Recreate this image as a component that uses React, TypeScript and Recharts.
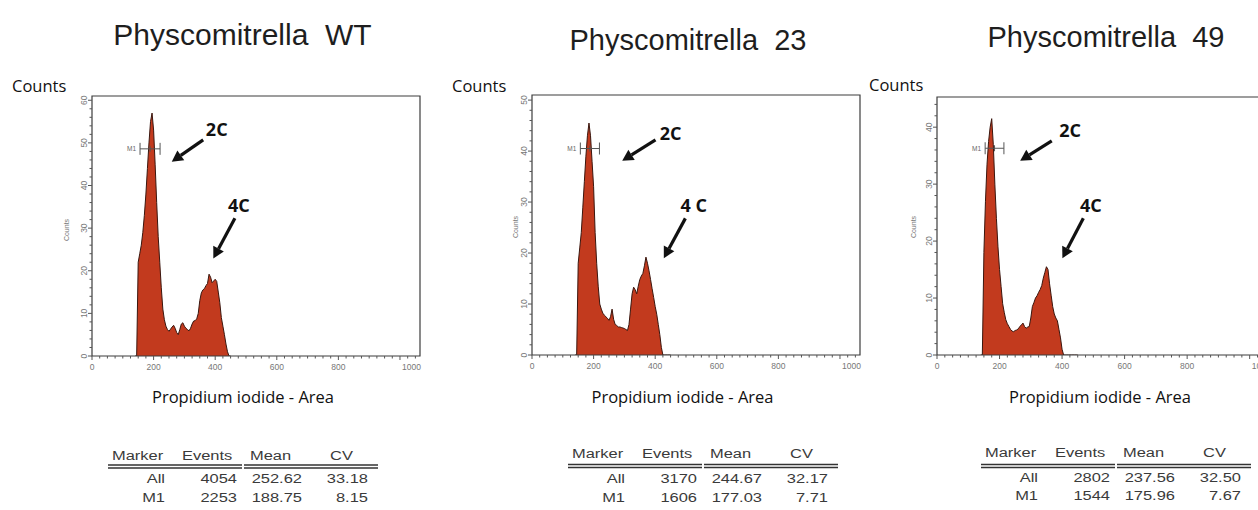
import React from "react";
import {
  AreaChart,
  Area,
  XAxis,
  YAxis,
  ReferenceArea,
  ReferenceLine,
  ReferenceDot,
} from "recharts";

// histogram bins (Propidium iodide channel)
const channels = [
  140, 145, 150, 155, 160, 165, 170, 175, 180, 185, 190, 195, 200, 205, 210,
  215, 220, 225, 230, 235, 240, 245, 250, 255, 260, 265, 270, 275, 280, 285,
  290, 295, 300, 305, 310, 315, 320, 325, 330, 335, 340, 345, 350, 355, 360,
  365, 370, 375, 380, 385, 390, 395, 400, 405, 410, 415, 420, 425, 430, 435,
  440, 445, 450,
];

const wtCounts = [
  0, 0, 22, 24, 26, 29, 33, 38, 44, 50, 55, 57, 53, 45, 36, 28, 22, 16, 11,
  8.5, 7, 6.2, 5.8, 6.3, 6.8, 7.2, 6.5, 5.5, 5, 6.2, 7.5, 7.8, 7, 6.5, 6.2,
  5.9, 6.5, 7.5, 8.2, 8.3, 8.7, 10, 13, 14.8, 15.5, 15.8, 16.5, 17, 19.2, 18.5,
  17.2, 17.6, 18, 17.5, 15, 12.5, 9, 7, 5, 2.8, 1, 0, 0,
];

const line23Counts = [
  0, 0, 18, 21, 24, 29, 34, 39, 43, 45.5, 43, 38, 33, 24, 18, 13.5, 10, 9, 8.2,
  7.8, 7.5, 7.2, 6.8, 7.5, 9, 7, 6, 5.8, 5.5, 5.5, 5.4, 5.3, 5.2, 5, 4.8, 6, 9,
  12, 13.3, 12.8, 12, 13.5, 14.8, 15.5, 16, 17.5, 19.2, 18, 16.5, 14.8, 13,
  11.3, 9.5, 8, 6, 4, 1.5, 0, 0, 0, 0, 0, 0,
];

const line49Counts = [
  0, 0, 18, 27, 33.5, 37.5, 40, 41.5, 37, 30, 24, 19, 15, 12, 9, 7.5, 6.2, 5.5,
  5, 4.5, 4.2, 4.1, 4.3, 4.4, 4.6, 5, 5.3, 5.6, 5, 4.7, 4.9, 5, 6.5, 8.5, 9.2,
  10, 10.4, 11, 11.5, 12.2, 13.5, 14.5, 15.5, 15, 12.5, 10.5, 8.5, 7.2, 6.5, 6,
  4.5, 3, 1, 0, 0, 0, 0, 0, 0, 0, 0, 0, 0,
];

const titles = ["Physcomitrella  WT", "Physcomitrella  23", "Physcomitrella  49"];
const peakLabels = [
  ["2C", "4C"],
  ["2C", "4 C"],
  ["2C", "4C"],
];

const statsHeader = ["Marker", "Events", "Mean", "CV"];
const wtStats = [
  ["All", "4054", "252.62", "33.18"],
  ["M1", "2253", "188.75", "8.15"],
];
const line23Stats = [
  ["All", "3170", "244.67", "32.17"],
  ["M1", "1606", "177.03", "7.71"],
];
const line49Stats = [
  ["All", "2802", "237.56", "32.50"],
  ["M1", "1544", "175.96", "7.67"],
];

const X_MAX = 1065;
const FILL = "#c23a1e";

const range = (start: number, end: number, step: number) => {
  const out: number[] = [];
  for (let v = start; v <= end + 1e-9; v += step) out.push(Math.round(v * 100) / 100);
  return out;
};

const xTicks = range(0, 1050, 25);

const XTick = (props: any) => {
  const { x, y, payload } = props;
  const v = payload.value;
  const major = v % 200 === 0;
  return (
    <g>
      <line x1={x} y1={y} x2={x} y2={y + (major ? 4 : 2.5)} stroke="#555" strokeWidth={1} />
      {major && (
        <text
          x={v === 1000 ? x + 2 : x}
          y={y + 14}
          textAnchor={v === 1000 ? "start" : "middle"}
          fontSize={8.5}
          fontFamily="Liberation Sans"
          fill="#777"
        >
          {v}
        </text>
      )}
    </g>
  );
};

const YTick = (props: any) => {
  const { x, y, payload } = props;
  const v = payload.value;
  const major = v % 10 === 0;
  const tx = x - 8;
  return (
    <g>
      <line x1={x - (major ? 4 : 2.5)} y1={y} x2={x} y2={y} stroke="#555" strokeWidth={1} />
      {major && (
        <text
          x={tx}
          y={y}
          transform={`rotate(-90 ${tx} ${y})`}
          textAnchor="middle"
          dominantBaseline="central"
          fontSize={8.5}
          fontFamily="Liberation Sans"
          fill="#777"
        >
          {v}
        </text>
      )}
    </g>
  );
};

const arrowShape = (p: any) => {
  const { x1, y1, x2, y2 } = p;
  const ang = Math.atan2(y2 - y1, x2 - x1);
  const L = 11;
  const W = 6;
  const bx = x2 - L * Math.cos(ang);
  const by = y2 - L * Math.sin(ang);
  const px = -Math.sin(ang) * W;
  const py = Math.cos(ang) * W;
  return (
    <g>
      <line x1={x1} y1={y1} x2={bx} y2={by} stroke="#111" strokeWidth={3.2} />
      <polygon points={`${x2},${y2} ${bx + px},${by + py} ${bx - px},${by - py}`} fill="#111" />
    </g>
  );
};

const markerShape = (p: any) => {
  const { x1, y1, x2 } = p;
  const mid = (x1 + x2) / 2;
  return (
    <g stroke="#555" strokeWidth={1}>
      <line x1={x1} y1={y1} x2={x2} y2={y1} />
      <line x1={x1} y1={y1 - 6} x2={x1} y2={y1 + 6} />
      <line x1={x2} y1={y1 - 6} x2={x2} y2={y1 + 6} />
      <line x1={mid} y1={y1 - 3} x2={mid} y2={y1 + 3} />
      <text x={x1 - 4} y={y1} textAnchor="end" dominantBaseline="central" fontSize={6.5} fontFamily="Liberation Sans" fill="#666" stroke="none">
        M1
      </text>
    </g>
  );
};

const peakText = (label: string) => (p: any) => (
  <text
    x={p.cx}
    y={p.cy}
    textAnchor="middle"
    dominantBaseline="central"
    fontSize={18}
    fontWeight="bold"
    fontFamily="Open Sans"
    fill="#111"
  >
    {label}
  </text>
);

type Pt = [number, number];
type PanelSpec = {
  counts: number[];
  labels: string[];
  plotLeft: number;
  plotTop: number;
  plotW: number;
  plotH: number;
  yMax: number;
  yTop: number;
  marker: [number, number, number];
  arrow2C: [Pt, Pt];
  text2C: Pt;
  arrow4C: [Pt, Pt];
  text4C: Pt;
};

const panels: PanelSpec[] = [
  {
    counts: wtCounts,
    labels: peakLabels[0],
    plotLeft: 92,
    plotTop: 96,
    plotW: 328,
    plotH: 260,
    yMax: 61,
    yTop: 60,
    marker: [156, 221, 48.6],
    arrow2C: [[361, 50.7], [259, 45.6]],
    text2C: [405, 53.2],
    arrow4C: [[464, 32.3], [394, 22.9]],
    text4C: [477, 35.4],
  },
  {
    counts: line23Counts,
    labels: peakLabels[1],
    plotLeft: 531.5,
    plotTop: 95,
    plotW: 328,
    plotH: 260,
    yMax: 51,
    yTop: 50,
    marker: [157, 219, 40.5],
    arrow2C: [[401, 42.2], [293, 38.1]],
    text2C: [450, 43.5],
    arrow4C: [[498, 26.8], [428, 19]],
    text4C: [525, 29.4],
  },
  {
    counts: line49Counts,
    labels: peakLabels[2],
    plotLeft: 937,
    plotTop: 97,
    plotW: 333,
    plotH: 258,
    yMax: 45.3,
    yTop: 44,
    marker: [154, 214, 36.3],
    arrow2C: [[367, 37.6], [266, 34.1]],
    text2C: [426, 39.5],
    arrow4C: [[468, 24], [401, 17]],
    text4C: [492, 26.3],
  },
];

const Panel = ({ spec }: { spec: PanelSpec }) => {
  const data = channels.map((ch, i) => ({ ch, count: spec.counts[i] }));
  const [m1, m2, my] = spec.marker;
  return (
    <div style={{ position: "absolute", left: spec.plotLeft - 30, top: spec.plotTop - 5 }}>
      <AreaChart
        width={spec.plotW + 35}
        height={spec.plotH + 30}
        data={data}
        margin={{ top: 5, right: 5, left: 0, bottom: 0 }}
      >
        <XAxis
          type="number"
          dataKey="ch"
          domain={[0, X_MAX]}
          ticks={xTicks}
          interval={0}
          tickSize={0}
          tickMargin={0}
          axisLine={false}
          tickLine={false}
          tick={(p: any) => <XTick {...p} />}
          height={25}
          allowDataOverflow
        />
        <YAxis
          type="number"
          domain={[0, spec.yMax]}
          ticks={range(0, spec.yTop, 2)}
          interval={0}
          tickSize={0}
          tickMargin={0}
          axisLine={false}
          tickLine={false}
          tick={(p: any) => <YTick {...p} />}
          width={30}
          allowDataOverflow
        />
        <Area
          type="linear"
          dataKey="count"
          stroke="#3a160e"
          strokeWidth={1}
          fill={FILL}
          fillOpacity={1}
          dot={false}
          activeDot={false}
          isAnimationActive={false}
        />
        <ReferenceArea
          x1={0}
          x2={X_MAX}
          y1={0}
          y2={spec.yMax}
          fill="none"
          stroke="#3c3c3c"
          strokeWidth={1.2}
          ifOverflow="visible"
        />
        <ReferenceLine
          segment={[{ x: m1, y: my }, { x: m2, y: my }]}
          shape={markerShape}
          ifOverflow="visible"
        />
        <ReferenceLine
          segment={[
            { x: spec.arrow2C[0][0], y: spec.arrow2C[0][1] },
            { x: spec.arrow2C[1][0], y: spec.arrow2C[1][1] },
          ]}
          shape={arrowShape}
          ifOverflow="visible"
        />
        <ReferenceLine
          segment={[
            { x: spec.arrow4C[0][0], y: spec.arrow4C[0][1] },
            { x: spec.arrow4C[1][0], y: spec.arrow4C[1][1] },
          ]}
          shape={arrowShape}
          ifOverflow="visible"
        />
        <ReferenceDot x={spec.text2C[0]} y={spec.text2C[1]} r={0} shape={peakText(spec.labels[0])} ifOverflow="visible" />
        <ReferenceDot x={spec.text4C[0]} y={spec.text4C[1]} r={0} shape={peakText(spec.labels[1])} ifOverflow="visible" />
      </AreaChart>
    </div>
  );
};

// text overlay layout
const titlePos = [
  { x: 242.5, y: 45, size: 30 },
  { x: 688, y: 50, size: 29 },
  { x: 1106, y: 47, size: 29 },
];
const countsPos = [
  { x: 12, y: 92 },
  { x: 452, y: 91.7 },
  { x: 869, y: 90.7 },
];
const axisCountsPos = [
  { x: 66, y: 230 },
  { x: 515, y: 227 },
  { x: 913, y: 227 },
];
const piCenters = [243, 682.5, 1100];
const tables = [
  { x: 108, rows: [460, 483, 502], lineY: 465, stats: wtStats },
  { x: 568, rows: [458, 483, 502], lineY: 464.5, stats: line23Stats },
  { x: 981, rows: [457, 482, 500], lineY: 464.5, stats: line49Stats },
];
const headerLeft = [4, 74, 142, 222];
const valueRight = [57, 129, 194, 260];

const StatsTable = ({ t }: { t: (typeof tables)[number] }) => (
  <g fontFamily="Liberation Sans" fontSize={13.5} fill="#3a3a3a">
    {statsHeader.map((h, i) => (
      <text key={h} transform={`translate(${t.x + headerLeft[i]},${t.rows[0]}) scale(1.22,1)`}>
        {h}
      </text>
    ))}
    <g stroke="#333" strokeWidth={1.3}>
      <line x1={t.x} y1={t.lineY} x2={t.x + 134} y2={t.lineY} />
      <line x1={t.x} y1={t.lineY + 3} x2={t.x + 134} y2={t.lineY + 3} />
      <line x1={t.x + 136} y1={t.lineY} x2={t.x + 270} y2={t.lineY} />
      <line x1={t.x + 136} y1={t.lineY + 3} x2={t.x + 270} y2={t.lineY + 3} />
    </g>
    {t.stats.map((row, r) =>
      row.map((cell, c) => (
        <text
          key={`${r}-${c}`}
          textAnchor="end"
          transform={`translate(${t.x + valueRight[c]},${t.rows[r + 1]}) scale(1.22,1)`}
        >
          {cell}
        </text>
      ))
    )}
  </g>
);

export default function App() {
  return (
    <div
      style={{
        position: "absolute",
        left: 0,
        top: 0,
        width: 1258,
        height: 510,
        background: "#fff",
        overflow: "hidden",
      }}
    >
      {panels.map((p, i) => (
        <Panel key={i} spec={p} />
      ))}
      <svg width={1258} height={510} style={{ position: "absolute", left: 0, top: 0, pointerEvents: "none" }}>
        {titles.map((t, i) => (
          <text
            key={t}
            x={titlePos[i].x}
            y={titlePos[i].y}
            textAnchor="middle"
            fontSize={titlePos[i].size}
            fontFamily="Liberation Sans"
            fill="#1e1e1e"
            style={{ whiteSpace: "pre" }}
          >
            {t}
          </text>
        ))}
        {countsPos.map((c, i) => (
          <text key={i} x={c.x} y={c.y} fontSize={16.5} fontFamily="Open Sans" fill="#111">
            Counts
          </text>
        ))}
        {axisCountsPos.map((c, i) => (
          <text
            key={i}
            x={c.x}
            y={c.y}
            transform={`rotate(-90 ${c.x} ${c.y})`}
            textAnchor="middle"
            dominantBaseline="central"
            fontSize={7}
            fontFamily="Liberation Sans"
            fill="#777"
          >
            Counts
          </text>
        ))}
        {piCenters.map((x, i) => (
          <text key={i} x={x} y={403} textAnchor="middle" fontSize={16.5} fontFamily="Open Sans" fill="#111">
            Propidium iodide - Area
          </text>
        ))}
        {tables.map((t, i) => (
          <StatsTable key={i} t={t} />
        ))}
      </svg>
    </div>
  );
}
